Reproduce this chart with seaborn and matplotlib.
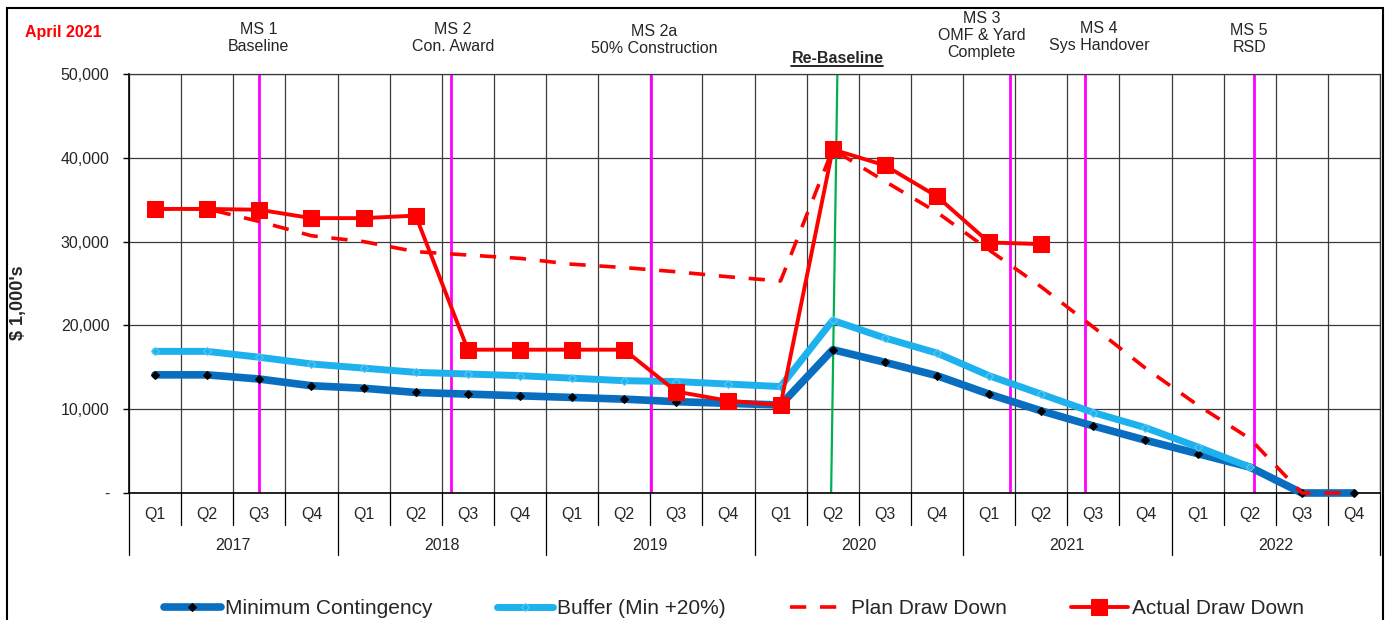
import matplotlib
matplotlib.use("Agg")
import matplotlib.pyplot as plt
import matplotlib.transforms as mtransforms
from matplotlib.lines import Line2D
from matplotlib.patches import Rectangle
from matplotlib.ticker import FuncFormatter, MultipleLocator
import numpy as np
import pandas as pd
import seaborn as sns

# --- data --------------------------------------------------------------------
quarters = ["Q1", "Q2", "Q3", "Q4"] * 6
years = ["2017", "2018", "2019", "2020", "2021", "2022"]

min_contingency = [14100, 14100, 13600, 12800, 12500, 12000, 11800, 11600,
                   11400, 11200, 10900, 10700, 10500, 17100, 15600, 14000,
                   11800, 9800, 8000, 6300, 4700, 3100, 0, 0]
buffer_min20 = [16900, 16900, 16200, 15400, 14900, 14400, 14200, 14000,
                13700, 13400, 13300, 13000, 12700, 20600, 18500, 16700,
                14000, 11800, 9600, 7800, 5500, 3100, np.nan, np.nan]
plan_draw_down = [33900, 33900, 32400, 30700, 30000, 28800, 28400, 28000,
                  27300, 26900, 26400, 25800, 25300, 41000, 37200, 33500,
                  29000, 24600, 19800, 14900, 10500, 6500, 0, 0]
actual_draw_down = [33900, 33900, 33800, 32800, 32800, 33100, 17100, 17100,
                    17100, 17100, 12100, 11000, 10500, 41000, 39100, 35400,
                    29900, 29700] + [np.nan] * 6

milestone_labels = ["MS 1\nBaseline", "MS 2\nCon. Award", "MS 2a\n50% Construction",
                    "MS 3\nOMF & Yard\nComplete", "MS 4\nSys Handover", "MS 5\nRSD"]
milestone_pos = [2.0, 5.67, 9.51, 16.40, 17.84, 21.08]
milestone_label_pos = [1.98, 5.71, 9.58, 15.86, 18.11, 20.99]
# baseline of the last text line, px from the top
milestone_baseline_px = [51, 51, 53, 57, 50, 52]
rebaseline_pos = [12.97, 13.09]

DARK = "#0A6EC0"
LIGHT = "#1DB2EE"
RED = "#FF0000"
MAGENTA = "#FF00FF"
GREEN = "#00B050"
GRID = "#3A3A3A"

W, H = 1391, 620

sns.set_theme(style="white")
plt.rcParams["font.family"] = ["Liberation Sans", "DejaVu Sans"]

df = pd.DataFrame({
    "idx": np.arange(len(quarters)),
    "quarter": quarters,
    "min": min_contingency,
    "buffer": buffer_min20,
    "plan": plan_draw_down,
    "actual": actual_draw_down,
})

fig = plt.figure(figsize=(W / 100, H / 100), dpi=100)
ax = fig.add_axes([129 / W, 1 - 493 / H, (1380 - 129) / W, (493 - 74) / H])

# milestone lines behind the series
for x in milestone_pos:
    ax.axvline(x, color=MAGENTA, lw=2, zorder=1.5)
ax.plot(rebaseline_pos, [0, 50000], color=GREEN, lw=1.6, zorder=1.5)

sns.lineplot(data=df, x="idx", y="min", ax=ax, color=DARK, lw=5.5, marker="D",
             markersize=4, markerfacecolor="black", markeredgecolor="black",
             errorbar=None, label="Minimum Contingency", zorder=3, clip_on=False)
sns.lineplot(data=df, x="idx", y="buffer", ax=ax, color=LIGHT, lw=5, marker="D",
             markersize=4, markerfacecolor=LIGHT, markeredgecolor="#5CC8F2",
             errorbar=None, label="Buffer (Min +20%)", zorder=3.1, clip_on=False)
sns.lineplot(data=df, x="idx", y="plan", ax=ax, color=RED, lw=2.6,
             dashes=False, errorbar=None, label="Plan Draw Down", zorder=3.2,
             clip_on=False)
ax.lines[-1].set_dashes((4.5, 3.8))
sns.lineplot(data=df, x="idx", y="actual", ax=ax, color=RED, lw=2.8, marker="s",
             markersize=11, markerfacecolor=RED, markeredgecolor=RED,
             errorbar=None, label="Actual Draw Down", zorder=3.3, clip_on=False)

ax.set_xlim(-0.5, len(quarters) - 0.5)
ax.set_ylim(0, 50000)
ax.yaxis.set_major_locator(MultipleLocator(10000))
ax.yaxis.set_major_formatter(FuncFormatter(lambda v, p: "-" if v == 0 else f"{v:,.0f}"))
ax.set_xticks(np.arange(-0.5, len(quarters), 1.0))
ax.set_xticklabels([])
ax.tick_params(axis="x", length=0)
ax.tick_params(axis="y", length=4, width=1, color="black", direction="out",
               labelsize=11.5, pad=10, left=True)
ax.grid(True, color=GRID, lw=0.9, zorder=0)
ax.set_axisbelow(True)
ax.set_xlabel("")
ax.set_ylabel("")
for s in ["top", "right"]:
    ax.spines[s].set_color(GRID)
    ax.spines[s].set_linewidth(0.9)
for s in ["left", "bottom"]:
    ax.spines[s].set_color("black")
    ax.spines[s].set_linewidth(1.2)

# category axis: quarters and years
tr = mtransforms.blended_transform_factory(ax.transData, fig.transFigure)
ax0 = 1 - 493 / H
for i, q in enumerate(quarters):
    ax.text(i, 1 - 519 / H, q, transform=tr, ha="center", va="baseline", fontsize=11.5)
for k in range(len(quarters) + 1):
    bottom = 555 if k % 4 == 0 else 525
    ax.add_line(Line2D([k - 0.5, k - 0.5], [ax0, 1 - bottom / H], transform=tr,
                       color="black", lw=0.9, clip_on=False))
for j, yr in enumerate(years):
    ax.text(j * 4 + 1.5, 1 - 550 / H, yr, transform=tr, ha="center", va="baseline",
            fontsize=11.5)

# milestone labels
for lab, x, by in zip(milestone_labels, milestone_label_pos, milestone_baseline_px):
    ax.text(x, 1 - by / H, lab, transform=tr, ha="center", va="baseline",
            fontsize=11.5, linespacing=1.15)
rb = ax.text(13.09, 1 - 63 / H, "Re-Baseline", transform=tr, ha="center",
             va="baseline", fontsize=11.5, fontweight="bold")

fig.text(25 / W, 1 - 37 / H, "April 2021", color=RED, fontsize=11.5,
         fontweight="bold", ha="left", va="baseline")
fig.text(18 / W, 1 - 303 / H, "$ 1,000's", rotation=90, fontsize=13,
         fontweight="bold", ha="center", va="center")

# legend along the bottom edge
handles, labels = ax.get_legend_handles_labels()
if ax.get_legend() is not None:
    ax.get_legend().remove()
fig.legend(handles, labels, loc="center", bbox_to_anchor=(734 / W, 1 - 609 / H),
           ncol=4, frameon=False, fontsize=15, handlelength=2.7,
           handletextpad=0.2, columnspacing=3.1)

# outer frame (bottom edge is cut off in the reference)
fig.add_artist(Rectangle((7 / W, -0.05), (1383 - 7) / W, 1 - 8 / H + 0.05,
                         transform=fig.transFigure, fill=False, ec="black", lw=1.5))

# underline for Re-Baseline
fig.canvas.draw()
bb = rb.get_window_extent(fig.canvas.get_renderer())
fig.add_artist(Line2D([bb.x0 / W, bb.x1 / W], [1 - 66 / H, 1 - 66 / H],
                      transform=fig.transFigure, color="black", lw=1.2))

fig.savefig("out.png", dpi=100, facecolor="white")
